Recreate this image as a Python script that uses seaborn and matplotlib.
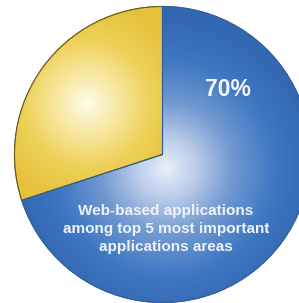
import numpy as np
import matplotlib
matplotlib.use("Agg")
import matplotlib.pyplot as plt
import seaborn as sns
from matplotlib.colors import LinearSegmentedColormap

# Data
labels = ["Other", "Web-based applications"]
values = [30, 70]
pct_label = "70%"
desc_label = "Web-based applications\namong top 5 most important\napplications areas"

sns.set_theme(style="white")
plt.rcParams["font.family"] = ["Liberation Sans", "DejaVu Sans"]

W, H = 299, 303
fig = plt.figure(figsize=(W / 100, H / 100), dpi=100)
ax = fig.add_axes([0, 0, 1, 1])

cx, cy, R = 162.5, H - 154.5, 148
wedges, _ = ax.pie(values, colors=["#e6c23a", "#3d72bd"], startangle=90,
                   counterclock=True, center=(cx, cy), radius=R,
                   wedgeprops=dict(linewidth=0.8))
wedges[0].set_edgecolor("#6b5a1a")
wedges[1].set_edgecolor("#2f5f9e")
ax.set_xlim(0, W)
ax.set_ylim(0, H)
ax.set_aspect("equal")
ax.axis("off")

yy, xx = np.mgrid[0:H, 0:W]
yy = H - yy  # data coords upward

def radial(center, rad, cmap, wedge, power=1.0):
    d = np.sqrt((xx - center[0]) ** 2 + (yy - center[1]) ** 2) / rad
    d = np.clip(d, 0, 1) ** power
    im = ax.imshow(d, cmap=cmap, extent=(0, W, 0, H), origin="upper",
                   vmin=0, vmax=1, zorder=wedge.get_zorder() + 0.1,
                   interpolation="bilinear")
    im.set_clip_path(wedge)

blue_cmap = LinearSegmentedColormap.from_list(
    "b", ["#eef2fa", "#bccdea", "#7299d1", "#4078c3", "#3367b2"])
yellow_cmap = LinearSegmentedColormap.from_list(
    "y", ["#fffcec", "#f8e9a6", "#eed158", "#e6c23c"])

radial((166, H - 168), 150, blue_cmap, wedges[1], power=0.85)
radial((87, H - 103), 100, yellow_cmap, wedges[0], power=0.9)

# redraw edges on top
for w, c in zip(wedges, ["#6b5a1a", "#2f5f9e"]):
    ax.add_patch(matplotlib.patches.Wedge(w.center, w.r, w.theta1, w.theta2,
                                          fill=False, edgecolor=c, linewidth=0.8,
                                          zorder=5))

ax.text(228, H - 90, pct_label, color="#f4f7fc", fontsize=16.5, fontweight="bold",
        ha="center", va="center", zorder=6)
ax.text(166, H - 229, desc_label, color="#eef3fa", fontsize=11, fontweight="bold",
        ha="center", va="center", linespacing=1.38, zorder=6)

fig.savefig("out.png", dpi=100, facecolor="white")
